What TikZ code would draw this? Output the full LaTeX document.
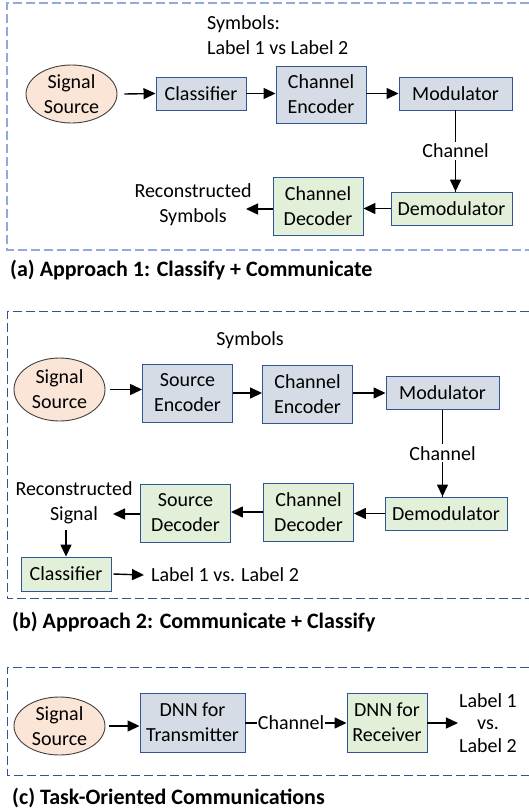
\documentclass[tikz,border=0pt]{standalone}
\usepackage{fontspec}
\setmainfont{Carlito}
\usetikzlibrary{
    arrows.meta,
    shapes.geometric,
    positioning
}
\definecolor{boxblue}{HTML}{D6DCE5}
\definecolor{boxgreen}{HTML}{E2F0D9}
\definecolor{srcorange}{HTML}{FBE5D6}
\definecolor{edgeblue}{HTML}{2F5597}
\definecolor{framelight}{HTML}{8FAADC}

\begin{document}
\begin{tikzpicture}[x=1pt, y=-1pt,
    font=\fontsize{20}{25}\selectfont,
    >={Triangle[length=12pt, width=11pt]},
    txblock/.style={draw=edgeblue, line width=0.9pt, fill=boxblue, align=center, inner sep=0pt},
    rxblock/.style={draw=edgeblue, line width=0.9pt, fill=boxgreen, align=center, inner sep=0pt},
    source/.style={ellipse, draw=black!75, line width=0.9pt, fill=srcorange, align=center, inner sep=0pt},
    frame/.style={dash pattern=on 9pt off 4pt, line width=1.2pt},
    caption/.style={anchor=west, inner sep=0pt, font=\fontsize{22}{26}\selectfont\bfseries},
    flow/.style={->, line width=1.4pt}]

    \useasboundingbox (0,0) rectangle (529,812);

    % (a) classify + communicate
    \draw[frame, framelight] (529,3) -- (7,3) -- (7,250) -- (529,250);
    \node[caption] (capa) at (10,270) {(a) Approach 1: Classify + Communicate};

    \node[anchor=west, align=left, inner sep=0pt] (syma) at (207,35) {Symbols:\\Label 1 vs Label 2};
    \node[source, minimum width=91pt, minimum height=58pt] (srca) at (71.5,94) {Signal\\Source};
    \node[txblock, minimum width=90pt, minimum height=33pt] (clsa) at (201,93.5) {Classifier};
    \node[txblock, minimum width=90pt, minimum height=57pt] (cenca) at (321,94.5) {Channel\\Encoder};
    \node[txblock, minimum width=113pt, minimum height=33pt] (moda) at (455.5,93.5) {Modulator};
    \node[rxblock, minimum width=121pt, minimum height=33pt] (demoda) at (451.5,208.5) {Demodulator};
    \node[rxblock, minimum width=90pt, minimum height=58pt] (cdeca) at (318,206) {Channel\\Decoder};
    \node[align=center, inner sep=0pt] (reca) at (193,205) {Reconstructed\\Symbols};
    \coordinate (recina) at (246,209);

    \draw[flow] (srca.east) ++(7,0) -- (clsa.west);
    \draw[flow] (clsa) -- (cenca.west |- clsa);
    \draw[flow] (cenca.east |- moda) -- (moda.west);
    \draw[line width=1.4pt] (moda.south) -- (demoda.north -| moda.south)
        node[midway, fill=white, inner sep=2pt] (cha) {Channel};
    \draw[flow] (cha.south) -- (demoda.north -| moda.south);
    \draw[flow] (demoda.west) -- (cdeca.east |- demoda);
    \draw[flow] (cdeca.west |- recina) -- (recina);

    % (b) communicate + classify
    \draw[frame, edgeblue, line width=1pt] (529,311.5) -- (7,311.5) -- (7,598) -- (529,598);
    \node[caption] (capb) at (12,622) {(b) Approach 2: Communicate + Classify};

    \node[inner sep=0pt] (symb) at (250,340) {Symbols};
    \node[source, minimum width=91pt, minimum height=63pt] (srcb) at (59.5,389.5) {Signal\\Source};
    \node[txblock, minimum width=90pt, minimum height=58pt] (sencb) at (187.5,393) {Source\\Encoder};
    \node[txblock, minimum width=90pt, minimum height=58pt] (cencb) at (307.5,394) {Channel\\Encoder};
    \node[txblock, minimum width=113pt, minimum height=33pt] (modb) at (442.5,393) {Modulator};
    \node[rxblock, minimum width=122pt, minimum height=33pt] (demodb) at (446,513.5) {Demodulator};
    \node[rxblock, minimum width=90pt, minimum height=58pt] (cdecb) at (308.5,512) {Channel\\Decoder};
    \node[rxblock, minimum width=90pt, minimum height=58pt] (sdecb) at (185.5,513) {Source\\Decoder};
    \node[align=center, inner sep=0pt] (recb) at (74,502.5) {Reconstructed\\Signal};
    \coordinate (recinb) at (113,514);
    \node[rxblock, minimum width=90pt, minimum height=34pt] (clsb) at (66,574) {Classifier};
    \node[anchor=west, inner sep=0pt, xshift=7pt] (lblb) at (144,575) {Label 1 vs. Label 2};

    \draw[flow] (srcb.east) ++(5,0) -- (sencb.west |- srcb);
    \draw[flow] (sencb) -- (cencb.west |- sencb);
    \draw[flow] (cencb.east |- modb) -- (modb.west);
    \draw[line width=1.4pt] (modb.south) -- (demodb.north -| modb.south)
        node[midway, fill=white, inner sep=2pt] (chb) {Channel};
    \draw[flow] (chb.south) -- (demodb.north -| modb.south);
    \draw[flow] (demodb.west) -- (cdecb.east |- demodb);
    \draw[flow] (cdecb.west) -- (sdecb.east |- cdecb);
    \draw[flow] (sdecb.west |- recinb) -- (recinb);
    \draw[flow] (clsb.north |- recb.south) ++(0,6) -- (clsb.north);
    \draw[flow] (clsb.east) ++(2,0) -- (144,575);

    % (c) task-oriented
    \draw[frame, edgeblue, line width=1pt] (529,667) -- (7,667) -- (7,775) -- (529,775);
    \node[caption] (capc) at (12,798) {(c) Task-Oriented Communications};

    \node[source, minimum width=91pt, minimum height=58pt] (srcc) at (59.5,726) {Signal\\Source};
    \node[txblock, minimum width=105pt, minimum height=59pt] (dnntx) at (192.5,722.5) {DNN for\\Transmitter};
    \node[inner sep=1pt] (chc) at (291,723) {Channel};
    \node[rxblock, minimum width=80pt, minimum height=59pt] (dnnrx) at (387,722.5) {DNN for\\Receiver};
    \node[align=center, inner sep=1pt, font=\fontsize{20}{22.5}\selectfont] (lblc) at (488,723) {Label 1\\vs.\\Label 2};

    \draw[flow] (srcc.east) ++(4,0) -- (dnntx.west |- srcc);
    \draw[line width=1.4pt] (dnntx.east |- chc) -- (chc.west);
    \draw[flow] (chc.east) -- (dnnrx.west |- chc);
    \draw[flow] (dnnrx.east |- chc) -- (lblc.west);
\end{tikzpicture}
\end{document}
